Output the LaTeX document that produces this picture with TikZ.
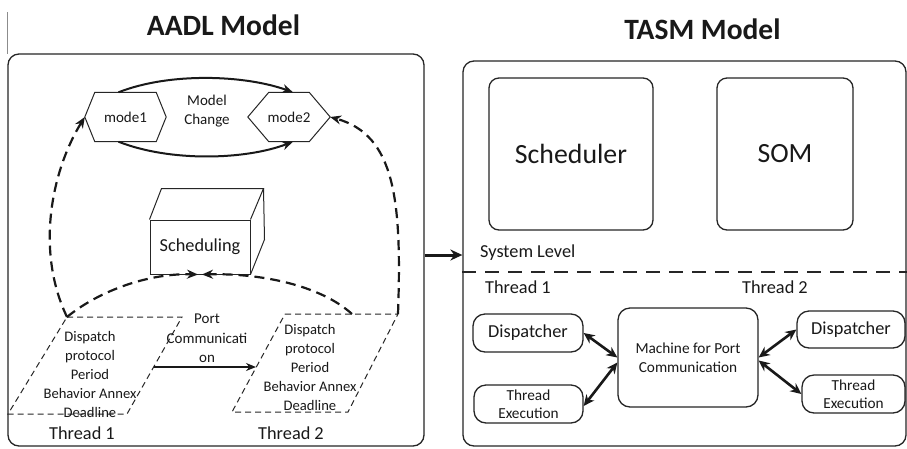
\documentclass[tikz,border=0pt]{standalone}
\usepackage{fontspec}
\setmainfont{Carlito}
\usetikzlibrary{arrows.meta}
\begin{document}
\begin{tikzpicture}[x=1pt,y=-1pt,
  ln/.style={draw=black!85, line width=1.3pt},
  bigbox/.style={ln, rounded corners=11pt, inner sep=0pt},
  rbox/.style={ln, rounded corners=10pt, inner sep=0pt, align=center, text=black!90},
  txt/.style={inner sep=0pt, align=center, text=black!90},
  title/.style={inner sep=0pt, text=black!90, font=\fontsize{29.5}{34}\selectfont\bfseries},
  arc/.style={draw=black!90, line width=2pt, -{Stealth[length=11pt,width=9pt]}},
  darc/.style={arc, line width=2.2pt, dash pattern=on 10pt off 6pt},
  para/.style={draw=black!85, line width=1pt, dash pattern=on 6pt off 4pt},
  dbl/.style={draw=black!90, line width=2.6pt, {Stealth[length=11pt,width=10pt]}-{Stealth[length=11pt,width=10pt]}},
  f15/.style={font=\fontsize{15}{19}\selectfont},
  f18/.style={font=\fontsize{18.3}{22}\selectfont},
  f28/.style={font=\fontsize{27.8}{32}\selectfont}
]
\useasboundingbox (0,0) rectangle (907,448);
\fill[white] (0,0) rectangle (907,448);
\draw[black!45, line width=0.8pt] (7,12) -- (7,54);

% titles
\node[title] (t1) at (223.5,25) {AADL Model};
\node[title] (t2) at (702.5,29) {TASM Model};

% big boxes
\node[bigbox, minimum width=416pt, minimum height=392pt] (L) at (216,250) {};
\node[bigbox, minimum width=443pt, minimum height=385pt] (R) at (684.5,253.5) {};

% modes
\node[txt, f15, minimum width=81pt, minimum height=49pt] (m1) at (125.5,117) {mode1};
\draw[ln, line width=1pt] (m1.west) -- ([xshift=10pt]m1.north west) -- ([xshift=-10pt]m1.north east) -- (m1.east) -- ([xshift=-10pt]m1.south east) -- ([xshift=10pt]m1.south west) -- cycle;
\node[txt, f15, minimum width=82pt, minimum height=49pt] (m2) at (289,117) {mode2};
\draw[ln, line width=1pt] (m2.west) -- ([xshift=21pt]m2.north west) -- ([xshift=-21pt]m2.north east) -- (m2.east) -- ([xshift=-21pt]m2.south east) -- ([xshift=21pt]m2.south west) -- cycle;
\node[txt, f15] (mc0) at (207,111) {Model\\Change};
\draw[arc] ([xshift=-7pt]m1.north) .. controls (170,72) and (245,75) .. ([xshift=4pt]m2.north);
\draw[arc] ([xshift=-7pt]m1.south) .. controls (170,162) and (245,160) .. ([xshift=4pt]m2.south);

% scheduling cube
\node[ln, line width=1pt, txt, f18, minimum width=100pt, minimum height=54pt] (sch) at (200,247) {Scheduling};
\draw[ln, line width=1pt] (sch.north west) -- ++(12,-31) -- ++(102,0) -- (sch.north east);
\draw[ln, line width=1pt] ([shift={(114,-31)}]sch.north west) -- ++(1,51) -- (sch.south east);

% thread parallelograms
\coordinate (p1a) at (67,317);
\coordinate (p1b) at (182,317);
\coordinate (p1c) at (127,414);
\coordinate (p1d) at (8,414);
\draw[para] (p1a) -- (p1b) -- (p1c) -- (p1d) -- cycle;
\coordinate (p2a) at (285,314);
\coordinate (p2b) at (398,314);
\coordinate (p2c) at (348,412);
\coordinate (p2d) at (232,412);
\draw[para] (p2a) -- (p2b) -- (p2c) -- (p2d) -- cycle;
\node[txt, font=\fontsize{14.6}{19}\selectfont] (p1) at (90,374) {Dispatch\\protocol\\Period\\Behavior Annex\\Deadline};
\node[txt, font=\fontsize{14.6}{19}\selectfont] (p2) at (310,367) {Dispatch\\protocol\\Period\\Behavior Annex\\Deadline};
\node[txt, font=\fontsize{15}{19.5}\selectfont] (pc) at (207,338.5) {Port\\Communicati\\on};
\coordinate (p1r) at (153.5,367);
\coordinate (p2l) at (256,367);
\draw[draw=black!90, line width=1.4pt, -{Stealth[length=10pt,width=8pt]}] (p1r) -- (p2l);

% dashed curves
\draw[darc] (p1a) .. controls (35,250) and (52,170) .. (m1.west);
\draw[darc] (p2b) .. controls (402,200) and (395,135) .. (m2.east);
\draw[darc] (p1a) .. controls (100,290) and (150,273) .. ([xshift=-2pt]sch.south);
\coordinate (p2t) at (352,314);
\draw[darc] (p2t) .. controls (320,285) and (260,273) .. ([xshift=2pt]sch.south);

\node[txt, f18] (th1) at (82,433) {Thread 1};
\node[txt, f18] (th2) at (291,433) {Thread 2};

% arrow between models
\coordinate (ay) at (0,255);
\draw[draw=black!90, line width=3pt, -{Stealth[length=12pt,width=11pt]}] (L.east |- ay) -- (R.west |- ay);

% TASM model contents
\node[rbox, f28, minimum width=164pt, minimum height=152pt] (sc) at (571,154) {Scheduler};
\node[rbox, f28, minimum width=136pt, minimum height=152pt] (som) at (785,154) {SOM};
\node[txt, f18, anchor=west] (sl) at (480,253) {System Level};
\coordinate (dy) at (0,272);
\draw[draw=black!85, line width=2pt, dash pattern=on 14pt off 9pt] (R.west |- dy) -- (R.east |- dy);
\node[txt, f18, anchor=west] (rt1) at (485,287) {Thread 1};
\node[txt, f18, anchor=west] (rt2) at (742,287) {Thread 2};

\node[rbox, f18, rounded corners=12pt, minimum width=110pt, minimum height=38pt] (dl) at (528,333) {Dispatcher};
\node[rbox, font=\fontsize{15.3}{18.5}\selectfont, rounded corners=12pt, minimum width=109pt, minimum height=38pt] (tl) at (528.5,404) {Thread\\Execution};
\node[rbox, font=\fontsize{15.3}{19}\selectfont, rounded corners=12pt, minimum width=140pt, minimum height=99pt] (mc) at (688,357.5) {Machine for Port\\Communication};
\node[rbox, f18, rounded corners=12pt, minimum width=108pt, minimum height=37pt] (dr) at (851,329.5) {Dispatcher};
\node[rbox, font=\fontsize{15.3}{18.5}\selectfont, rounded corners=12pt, minimum width=103pt, minimum height=38pt] (tr) at (853.5,394) {Thread\\Execution};

\draw[dbl] (dl.east) -- (mc.west);
\draw[dbl] ([yshift=-2pt]tl.east) -- ([yshift=-5pt]mc.west);
\draw[dbl] (mc.east) -- (dr.west);
\draw[dbl] ([yshift=-3pt]mc.east) -- (tr.west);
\end{tikzpicture}
\end{document}
